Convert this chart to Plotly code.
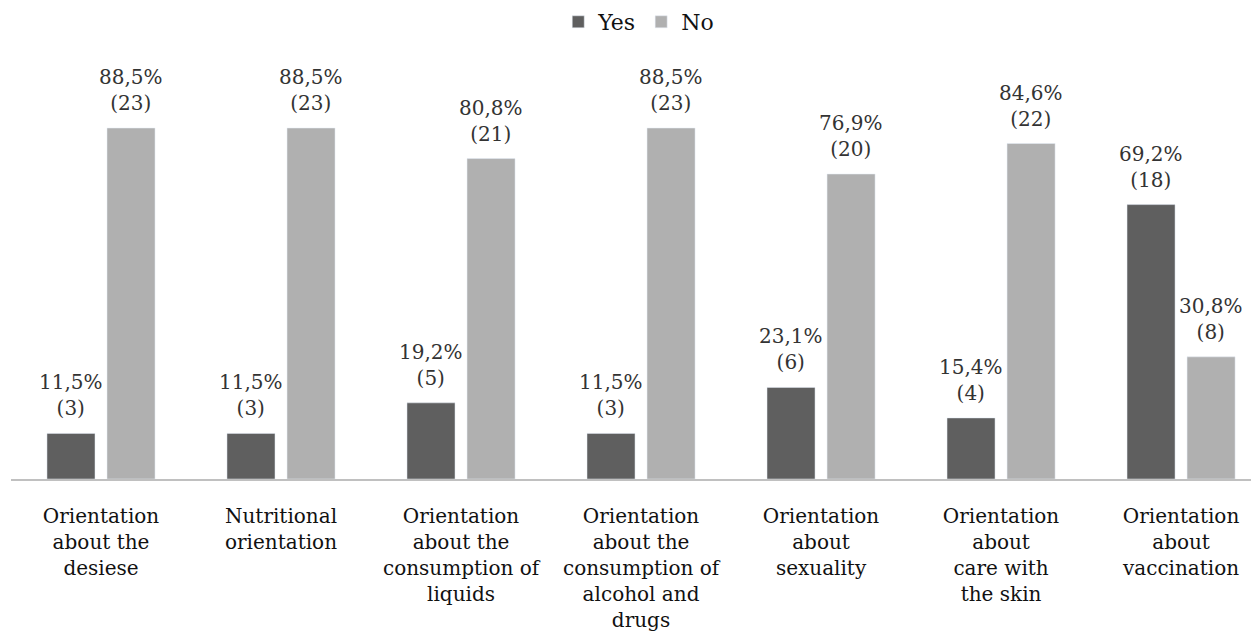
import plotly.graph_objects as go

categories = [
    "Orientation<br>about the<br>desiese",
    "Nutritional<br>orientation",
    "Orientation<br>about the<br>consumption of<br>liquids",
    "Orientation<br>about the<br>consumption of<br>alcohol and<br>drugs",
    "Orientation<br>about<br>sexuality",
    "Orientation<br>about<br>care with<br>the skin",
    "Orientation<br>about<br>vaccination",
]
yes_pct = [11.5, 11.5, 19.2, 11.5, 23.1, 15.4, 69.2]
yes_n = [3, 3, 5, 3, 6, 4, 18]
no_pct = [88.5, 88.5, 80.8, 88.5, 76.9, 84.6, 30.8]
no_n = [23, 23, 21, 23, 20, 22, 8]

x = list(range(len(categories)))
FONT = "DejaVu Serif"
DARK = "#5f5f5f"
LIGHT = "#b0b0b0"

fig = go.Figure()
fig.add_trace(go.Bar(x=x, y=yes_pct, name="Yes", marker_color=DARK))
fig.add_trace(go.Bar(x=x, y=no_pct, name="No", marker_color=LIGHT))

def lab(p, n):
    return f"{p:.1f}".replace(".", ",") + f"%<br>({n})"

annos = []
for i in x:
    annos.append(dict(x=i - 1/6, y=yes_pct[i], text=lab(yes_pct[i], yes_n[i]),
                      showarrow=False, yanchor="bottom", yshift=11,
                      font=dict(family=FONT, size=20, color="#333333")))
    annos.append(dict(x=i + 1/6, y=no_pct[i], text=lab(no_pct[i], no_n[i]),
                      showarrow=False, yanchor="bottom", yshift=11,
                      font=dict(family=FONT, size=20, color="#333333")))

fig.update_layout(
    width=1259, height=633,
    margin=dict(l=3, r=8, t=32, b=162, autoexpand=False),
    barmode="group", bargap=0.333, bargroupgap=0.2,
    plot_bgcolor="white", paper_bgcolor="white",
    font=dict(family=FONT, size=20, color="#111111"),
    legend=dict(orientation="h", x=0.503, xanchor="center", y=1.041, yanchor="middle",
                font=dict(family=FONT, size=22, color="#111111"), itemwidth=30),
    annotations=annos,
    xaxis=dict(tickmode="array", tickvals=x, ticktext=categories, automargin=False,
               range=[-0.5, 6.433], showline=True, linecolor="#c0c0c0", linewidth=2,
               showgrid=False, zeroline=False, ticks="", ticklabelstandoff=18,
               tickfont=dict(family=FONT, size=20, color="#111111")),
    yaxis=dict(range=[0, 110.7], visible=False, showgrid=False, zeroline=False,
               automargin=False),
)

fig.write_html("out.html")
